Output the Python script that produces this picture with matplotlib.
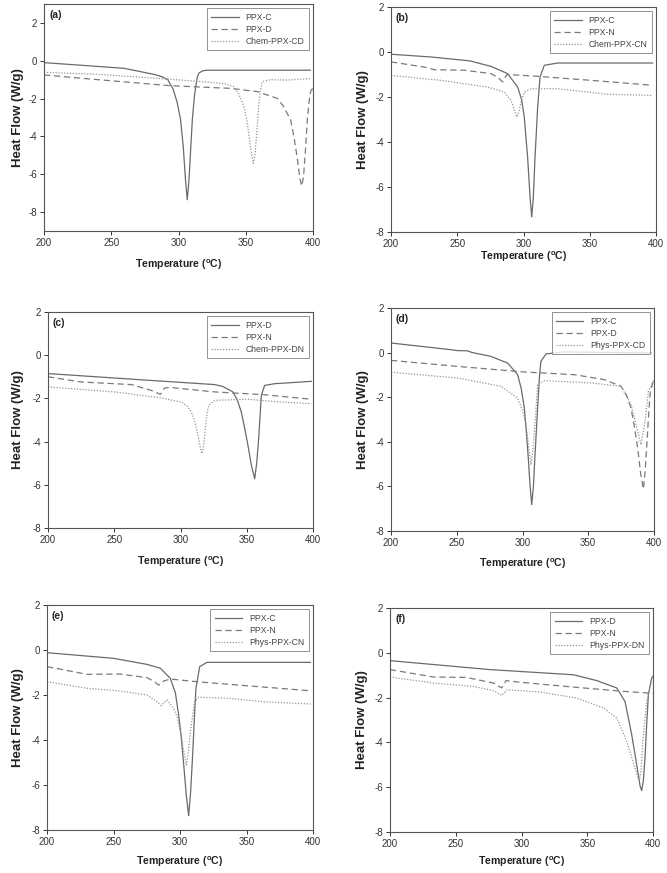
import matplotlib
matplotlib.use("Agg")
import matplotlib.pyplot as plt

plt.rcParams['font.family'] = ['Liberation Sans', 'DejaVu Sans']
plt.rcParams['mathtext.fontset'] = 'custom'
plt.rcParams['mathtext.rm'] = 'Liberation Sans:bold'
plt.rcParams['mathtext.bf'] = 'Liberation Sans:bold'
plt.rcParams['axes.unicode_minus'] = False

# ---------------- data ----------------
panel_labels = ['(a)', '(b)', '(c)', '(d)', '(e)', '(f)']
legend_names = [
    ['PPX-C', 'PPX-D', 'Chem-PPX-CD'],
    ['PPX-C', 'PPX-N', 'Chem-PPX-CN'],
    ['PPX-D', 'PPX-N', 'Chem-PPX-DN'],
    ['PPX-C', 'PPX-D', 'Phys-PPX-CD'],
    ['PPX-C', 'PPX-N', 'Phys-PPX-CN'],
    ['PPX-D', 'PPX-N', 'Phys-PPX-DN'],
]
x_ticks = [200, 250, 300, 350, 400]
y_ticks = [-8, -6, -4, -2, 0, 2]

# (a)
a_t1 = [200, 230, 259.5, 281.8, 288, 292, 296, 299, 301.5, 303.5, 305.2, 306.5, 307.8, 309.2, 310.3, 311.8, 312.8, 314, 315.2, 318, 321, 350, 398]
a_y1 = [-0.10, -0.25, -0.40, -0.72, -0.85, -1.0, -1.5, -2.2, -3.1, -4.5, -6.3, -7.35, -6.3, -4.5, -3.1, -1.9, -1.37, -0.85, -0.65, -0.53, -0.50, -0.50, -0.50]
a_t2 = [200, 240, 294, 338.8, 358.6, 373.5, 378, 383.4, 386, 388.4, 390.2, 391.6, 393, 394.5, 395.8, 397, 398.3, 400]
a_y2 = [-0.75, -1.0, -1.32, -1.46, -1.63, -1.99, -2.4, -3.13, -4.1, -5.2, -6.2, -6.62, -6.1, -4.6, -3.1, -2.2, -1.6, -1.45]
a_t3 = [200, 240, 270, 298, 333.8, 341, 345, 348.7, 351, 353, 354.5, 355.6, 356.8, 358.2, 359.8, 361, 362.3, 368.5, 380, 398]
a_y3 = [-0.61, -0.72, -0.86, -1.0, -1.2, -1.37, -1.8, -2.43, -3.2, -4.3, -5.0, -5.42, -5.0, -3.8, -2.2, -1.5, -1.1, -1.0, -1.02, -0.95]

# (b)
b_t1 = [200, 230, 255.3, 260, 275.5, 288, 295.6, 298.5, 300.6, 303.1, 305, 306.2, 307.4, 308.7, 310.7, 312.5, 315.7, 325.8, 397.5]
b_y1 = [-0.10, -0.22, -0.37, -0.40, -0.64, -0.96, -1.56, -2.1, -2.89, -4.67, -6.5, -7.33, -6.5, -4.67, -2.44, -1.11, -0.59, -0.49, -0.49]
b_t2 = [200, 225.2, 232.7, 255.3, 275.5, 281, 284.3, 285.5, 287.5, 310.7, 351, 397.5]
b_y2 = [-0.44, -0.67, -0.79, -0.81, -0.96, -1.15, -1.33, -1.2, -1.0, -1.08, -1.26, -1.48]
b_t3 = [200, 237.7, 273, 285.5, 290.6, 293.2, 295.1, 296.8, 298.1, 300.6, 305.7, 325.8, 363.5, 397.5]
b_y3 = [-1.04, -1.26, -1.56, -1.78, -2.15, -2.6, -2.89, -2.6, -2.22, -1.78, -1.63, -1.63, -1.88, -1.93]

# (c)
c_t1 = [200, 275.5, 325.8, 332, 339.6, 343, 345.9, 348.5, 350.9, 353.5, 356, 357.5, 359, 361, 363.5, 371, 391.2, 398.7]
c_y1 = [-0.85, -1.16, -1.36, -1.45, -1.70, -2.1, -2.63, -3.4, -4.17, -5.1, -5.72, -5.0, -3.86, -1.86, -1.40, -1.32, -1.24, -1.21]
c_t2 = [200, 225, 262.9, 278, 284.8, 288, 291.8, 325.8, 363.5, 398.7]
c_y2 = [-1.0, -1.24, -1.36, -1.63, -1.81, -1.52, -1.49, -1.70, -1.83, -2.04]
c_t3 = [200, 250.3, 285.5, 300.6, 305, 308.2, 311, 313.2, 315, 316.2, 317.5, 318.7, 320, 321.3, 325.8, 350.9, 376.1, 398.7]
c_y3 = [-1.47, -1.70, -1.98, -2.17, -2.35, -2.63, -3.1, -3.71, -4.3, -4.56, -4.2, -3.4, -2.7, -2.32, -2.09, -2.04, -2.17, -2.24]

# (d)
d_t1 = [200, 245.6, 250.7, 258, 262, 276, 288.7, 296.3, 299, 301.4, 303, 304.4, 305.8, 307, 308.3, 309.5, 311.5, 313, 314, 317.9, 331.8, 397.7]
d_y1 = [0.43, 0.13, 0.09, 0.08, 0.0, -0.17, -0.47, -0.99, -1.6, -2.48, -3.6, -4.73, -6.0, -6.82, -6.0, -4.6, -2.48, -1.0, -0.39, -0.06, 0.03, -0.02]
d_t2 = [200, 250.7, 301.4, 339.4, 362.2, 374.9, 379, 382.5, 385, 387.6, 389.8, 391.9, 393.3, 394.7, 396, 397.2, 400]
d_y2 = [-0.35, -0.62, -0.87, -0.99, -1.21, -1.51, -1.9, -2.48, -3.3, -4.28, -5.4, -6.12, -5.3, -3.98, -2.7, -1.74, -1.21]
d_t3 = [200, 250.7, 283.7, 296.3, 300, 302.7, 305, 306.5, 308, 309.5, 311.5, 316.6, 352.1, 374.9, 382.5, 387.6, 390.1, 393.2, 395.7, 400]
d_y3 = [-0.88, -1.14, -1.51, -2.04, -2.6, -3.23, -4.4, -5.03, -4.3, -3.23, -1.44, -1.26, -1.36, -1.51, -2.33, -3.53, -4.13, -3.08, -1.74, -1.21]

# (e)
e_t1 = [200, 250.1, 275.2, 285.2, 292.7, 296.5, 299, 301, 302.8, 304.8, 306.5, 308, 309.5, 311, 312, 314.8, 320.3, 398]
e_y1 = [-0.12, -0.37, -0.64, -0.81, -1.26, -1.9, -2.89, -3.9, -5.11, -6.5, -7.36, -6.3, -4.67, -2.8, -1.70, -0.74, -0.55, -0.55]
e_t2 = [200, 230, 255.1, 275.2, 280, 284, 287.7, 292.7, 312.8, 350.4, 398]
e_y2 = [-0.74, -1.08, -1.07, -1.23, -1.38, -1.56, -1.38, -1.29, -1.41, -1.59, -1.81]
e_t3 = [200, 230, 255.1, 275.2, 282.7, 285.7, 290.2, 295.2, 298, 300.3, 302.5, 304.8, 306.3, 307.8, 309.5, 311, 314, 337.8, 362.9, 398]
e_y3 = [-1.41, -1.70, -1.82, -2.0, -2.30, -2.47, -2.22, -2.59, -3.0, -3.63, -4.4, -5.11, -4.5, -3.63, -2.9, -2.3, -2.1, -2.15, -2.30, -2.4]

# (f)
f_t1 = [200, 276, 339.4, 357.2, 372.4, 378.7, 383.8, 386.5, 388.8, 390.2, 391.4, 392.7, 393.9, 395.2, 396.5, 399, 400]
f_y1 = [-0.35, -0.75, -0.98, -1.24, -1.57, -2.17, -3.65, -4.6, -5.44, -5.95, -6.15, -5.7, -4.70, -3.2, -1.87, -1.12, -1.05]
f_t2 = [200, 233, 258.3, 278.6, 284.9, 288.2, 296.3, 339.4, 377.4, 400]
f_y2 = [-0.75, -1.08, -1.10, -1.35, -1.57, -1.24, -1.30, -1.53, -1.72, -1.81]
f_t3 = [200, 233, 263.4, 278.6, 284.9, 289.2, 314, 342, 362.2, 372.4, 380, 386.3, 389.6, 391, 392.2, 395.2, 399]
f_y3 = [-1.08, -1.35, -1.50, -1.69, -1.90, -1.65, -1.75, -2.02, -2.46, -2.91, -3.95, -5.14, -5.74, -5.2, -3.95, -2.17, -1.2]

panel_data = [
    [(a_t1, a_y1), (a_t2, a_y2), (a_t3, a_y3)],
    [(b_t1, b_y1), (b_t2, b_y2), (b_t3, b_y3)],
    [(c_t1, c_y1), (c_t2, c_y2), (c_t3, c_y3)],
    [(d_t1, d_y1), (d_t2, d_y2), (d_t3, d_y3)],
    [(e_t1, e_y1), (e_t2, e_y2), (e_t3, e_y3)],
    [(f_t1, f_y1), (f_t2, f_y2), (f_t3, f_y3)],
]

# ---------------- layout ----------------
W, H = 667, 873
fig = plt.figure(figsize=(W / 100, H / 100), dpi=100)

# pixel boxes: left, top, right, bottom ; xlabel centre y ; ylabel centre x
boxes = [
    (44, 4, 313, 231, 265, 18, (-9, 3)),
    (391, 7, 656, 232, 257, 363, (-8, 2)),
    (48, 312, 313, 528, 562, 18, (-8, 2)),
    (391, 308, 654, 531, 564, 363, (-8, 2)),
    (47, 605, 313, 830, 862, 18, (-8, 2)),
    (390, 608, 653, 832, 862, 362, (-8, 2)),
]

styles = [
    dict(color='#6a6a6a', lw=0.9, ls='-'),
    dict(color='#7a7a7a', lw=0.9, ls=(0, (5, 3))),
    dict(color='#959595', lw=0.9, ls=(0, (1, 1.3))),
]

for i, (l, t, r, b, xl_y, yl_x, ylim) in enumerate(boxes):
    ax = fig.add_axes([l / W, 1 - b / H, (r - l) / W, (b - t) / H])
    for k, (tt, yy) in enumerate(panel_data[i]):
        ax.plot(tt, yy, label=legend_names[i][k], **styles[k])
    ax.set_xlim(200, 400)
    ax.set_ylim(*ylim)
    ax.set_xticks(x_ticks)
    ax.set_yticks(y_ticks)
    ax.tick_params(axis='both', which='both', direction='out', length=3, width=0.7,
                   labelsize=7, colors='#333333', top=False, right=False, pad=2)
    for sp in ax.spines.values():
        sp.set_color('#555555')
        sp.set_linewidth(0.8)
    ax.set_xlabel(r'Temperature ($^{\mathrm{o}}$C)', fontsize=7.6, fontweight='bold',
                  color='#222222', va='center')
    ax.set_ylabel('Heat Flow (W/g)', fontsize=9.5, fontweight='bold', color='#222222',
                  va='center')
    hpx = b - t
    wpx = r - l
    ax.xaxis.set_label_coords(0.5, -(xl_y - b) / hpx)
    ax.yaxis.set_label_coords(-(l - yl_x) / wpx, 0.5)
    ax.text(5 / wpx, 1 - 11 / hpx, panel_labels[i], transform=ax.transAxes,
            fontsize=7.5, fontweight='bold', color='#222222', va='center', ha='left')
    leg = ax.legend(loc='upper right', fontsize=6.2, frameon=True, fancybox=False,
                    edgecolor='#777777', handlelength=3.2, borderpad=0.5,
                    labelspacing=0.35, borderaxespad=0.5, handletextpad=0.8)
    leg.get_frame().set_linewidth(0.7)
    for txt in leg.get_texts():
        txt.set_color('#444444')

fig.savefig('out.png', dpi=100)
